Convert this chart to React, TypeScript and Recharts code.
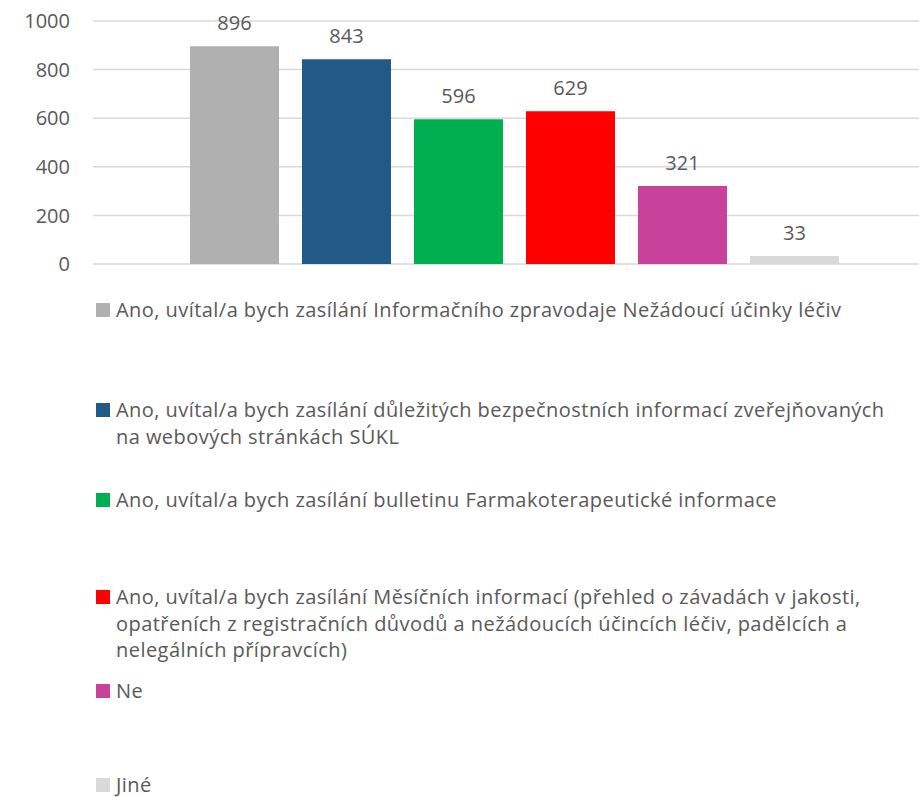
import React from "react";
import { BarChart, Bar, XAxis, YAxis, CartesianGrid, Legend, LabelList } from "recharts";

const seriesNames = [
  "Ano, uvítal/a bych zasílání Informačního zpravodaje Nežádoucí účinky léčiv",
  "Ano, uvítal/a bych zasílání důležitých bezpečnostních informací zveřejňovaných na webových stránkách SÚKL",
  "Ano, uvítal/a bych zasílání bulletinu Farmakoterapeutické informace",
  "Ano, uvítal/a bych zasílání Měsíčních informací (přehled o závadách v jakosti, opatřeních z registračních důvodů a nežádoucích účincích léčiv, padělcích a nelegálních přípravcích)",
  "Ne",
  "Jiné",
];
const seriesValues = [896, 843, 596, 629, 321, 33];
const seriesColors = ["#b0b0b0", "#215a87", "#00b050", "#ff0000", "#c8419a", "#d9d9d9"];
const yTicks = [0, 200, 400, 600, 800, 1000];

const data = [
  {
    category: "odpovědi",
    ...Object.fromEntries(seriesValues.map((v, i) => [`s${i}`, v])),
  },
];

const FONT = "'Open Sans', sans-serif";
const TEXT = "#595959";

// legend item tops, relative to the legend box (Excel spreads them out)
const itemTops = [33, 133, 223, 320, 414, 508];

const LegendBox = ({ payload }: any) => {
  const items = [...(payload || [])].sort(
    (a: any, b: any) => seriesNames.indexOf(a.value) - seriesNames.indexOf(b.value)
  );
  return (
    <div style={{ position: "relative", width: 919, height: 530, fontFamily: FONT, fontSize: 20, letterSpacing: 0.45, color: TEXT }}>
      {items.map((entry: any, i: number) => (
        <div
          key={i}
          style={{ position: "absolute", left: 96, top: itemTops[i], width: 800, display: "flex", lineHeight: "26.5px", textAlign: "left" }}
        >
          <span style={{ width: 14, height: 14, background: entry.color, marginTop: 6, marginRight: 6, flex: "none" }} />
          <span>{entry.value}</span>
        </div>
      ))}
    </div>
  );
};

export default function App() {
  return (
    <div style={{ position: "absolute", top: 0, left: 0, width: 919, height: 797, background: "#fff" }}>
      <BarChart width={919} height={797} data={data} barSize={89} barGap={23} margin={{ top: 21, right: 0, bottom: 3, left: 0 }}>
        <CartesianGrid vertical={false} stroke="#d9d9d9" strokeWidth={1.5} />
        <XAxis dataKey="category" hide padding={{ left: 17, right: 0 }} />
        <YAxis
          domain={[0, 1000]}
          ticks={yTicks}
          width={93}
          axisLine={false}
          tickLine={false}
          tickSize={0}
          tickMargin={23}
          tick={{ fill: TEXT, fontSize: 20, fontFamily: FONT }}
        />
        <Legend layout="vertical" align="center" verticalAlign="bottom" wrapperStyle={{ left: 0, width: 919 }} content={<LegendBox />} />
        {seriesNames.map((name, i) => (
          <Bar key={name} dataKey={`s${i}`} name={name} fill={seriesColors[i]} isAnimationActive={false}>
            <LabelList dataKey={`s${i}`} position="top" offset={16} fill={TEXT} fontSize={20} fontFamily={FONT} />
          </Bar>
        ))}
      </BarChart>
    </div>
  );
}
